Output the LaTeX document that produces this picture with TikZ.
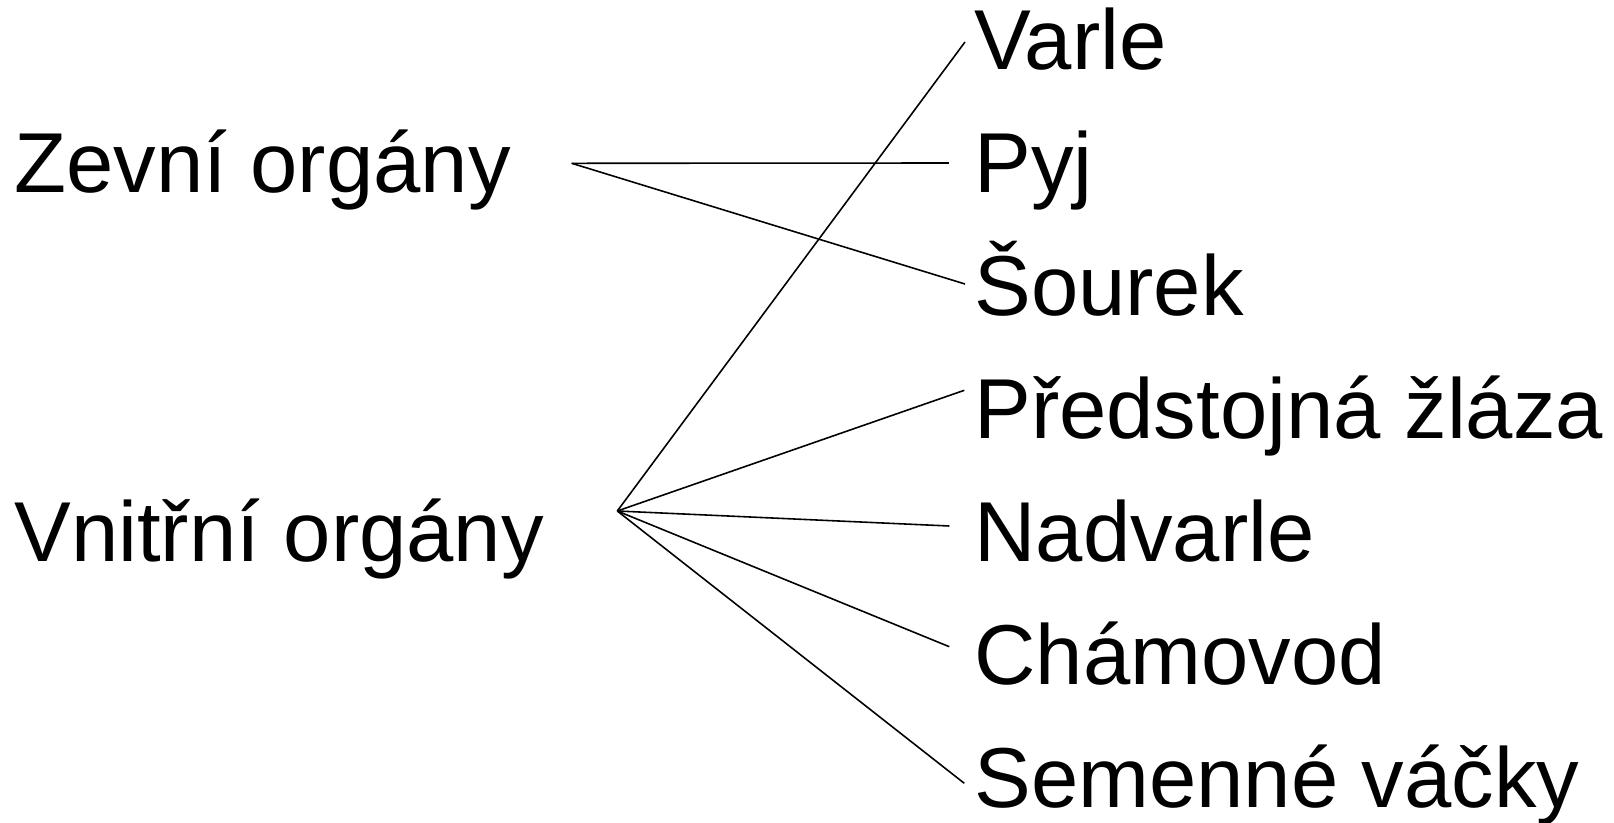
\documentclass[tikz,border=0pt]{standalone}
\usepackage{fontspec}
\setmainfont{Liberation Sans}
\usepackage{tikz}
\newcommand{\organfont}{\fontsize{48.4pt}{58pt}\selectfont}

\begin{document}
\begin{tikzpicture}[scale=0.2]
\tikzstyle{every node}+=[inner sep=0pt, anchor=base west, font=\organfont]
\useasboundingbox (0,0) rectangle (161.4,-82.2);
\node (zevni) at (1.4,-19.2) {Zevní orgány};
\node (vnitrni) at (1.4,-56.1) {Vnitřní orgány};
\node (varle) at (97.4,-6.9) {Varle};
\node (pyj) at (97.4,-19.2) {Pyj};
\node (sourek) at (97.4,-31.5) {Šourek};
\node (predstojna) at (97.4,-43.8) {Předstojná žláza};
\node (nadvarle) at (97.4,-56.1) {Nadvarle};
\node (chamovod) at (97.4,-68.4) {Chámovod};
\node (semenne) at (97.4,-80.7) {Semenné váčky};
\coordinate (zevni-hub) at (57.17,-16.33);
\coordinate (vnitrni-hub) at (61.73,-51.1);
\coordinate (varle-end) at (96.5,-4.2);
\coordinate (pyj-end) at (94.9,-16.3);
\coordinate (sourek-end) at (96.5,-28.4);
\coordinate (predstojna-end) at (96.43,-39.03);
\coordinate (nadvarle-end) at (94.93,-52.6);
\coordinate (chamovod-end) at (94.93,-64.67);
\coordinate (semenne-end) at (96.43,-78.33);
\draw [black, line width=0.9pt] (zevni-hub) -- (pyj-end);
\draw [black, line width=0.9pt] (zevni-hub) -- (sourek-end);
\draw [black, line width=0.9pt] (vnitrni-hub) -- (varle-end);
\draw [black, line width=0.9pt] (vnitrni-hub) -- (predstojna-end);
\draw [black, line width=0.9pt] (vnitrni-hub) -- (nadvarle-end);
\draw [black, line width=0.9pt] (vnitrni-hub) -- (chamovod-end);
\draw [black, line width=0.9pt] (vnitrni-hub) -- (semenne-end);
\end{tikzpicture}
\end{document}
